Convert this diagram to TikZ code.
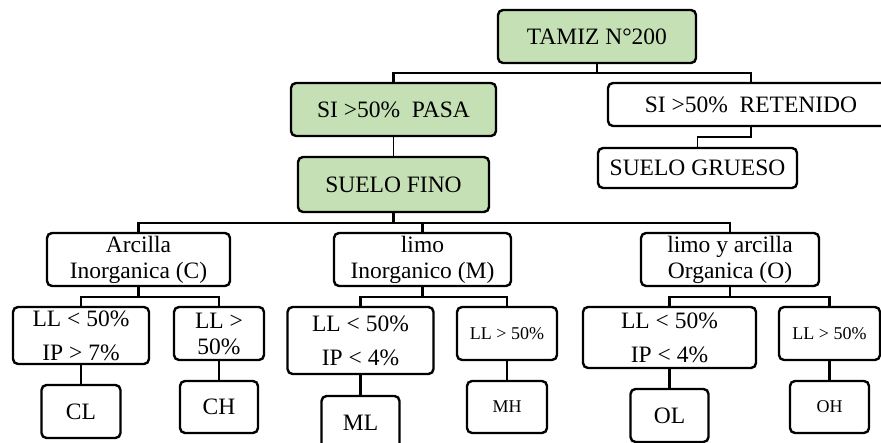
\documentclass[tikz,border=0pt]{standalone}
\usepackage{fontspec}
\setmainfont{Liberation Serif}
\usetikzlibrary{calc}
\definecolor{leafgreen}{RGB}{197,224,180}
\tikzset{
  box/.style={draw=black, line width=2.4pt, rounded corners=5pt, fill=white,
    inner sep=0pt, align=center, font=\fontsize{23.5}{26}\selectfont},
  gbox/.style={box, fill=leafgreen},
  wide/.style={font=\fontsize{23.5}{34}\selectfont},
  small/.style={font=\fontsize{18}{20}\selectfont},
  sz/.style args={#1x#2}{minimum width=#1pt, minimum height=#2pt},
  conn/.style={line width=2.4pt},
  thin/.style={line width=1.3pt},
}
\begin{document}
\begin{tikzpicture}[x=1pt, y=-1pt]
\useasboundingbox (0,0) rectangle (881,443);

% upper part
\node[gbox, sz=198x53] (tamiz) at (597,36.5) {TAMIZ N°200};
\node[gbox, sz=205x53] (pasa) at (393.5,109.5) {SI >50\%\ \ PASA};
\node[box, sz=286x43] (ret) at (751,104.5) {SI >50\%\ \ RETENIDO};
\node[gbox, sz=191x55] (fino) at (393.5,184.5) {SUELO FINO};
\node[box, sz=199x40] (grueso) at (697.5,168) {SUELO GRUESO};

% soil groups
\node[box, sz=183x53] (arc) at (138.5,259.5) {Arcilla\\Inorganica (C)};
\node[box, sz=177x53] (lim) at (422.5,259.5) {limo\\Inorganico (M)};
\node[box, sz=178x53] (org) at (730,259.5) {limo y arcilla\\Organica (O)};

% liquid limit conditions
\node[box, wide, sz=136x57] (c1) at (81,335.5) {LL < 50\%\\IP > 7\%};
\node[box, sz=90x53] (c2) at (219,333.5) {LL >\\50\%};
\node[box, wide, sz=146x67] (m1) at (360.5,340.5) {LL < 50\%\\IP < 4\%};
\node[box, small, sz=100x53] (m2) at (507,333.5) {LL > 50\%};
\node[box, wide, sz=173x61] (o1) at (669.5,337.5) {LL < 50\%\\IP < 4\%};
\node[box, small, sz=101x53] (o2) at (829.5,333.5) {LL > 50\%};

% symbols
\node[box, sz=79x53] (cl) at (81,411.5) {CL};
\node[box, sz=78x52] (ch) at (219,407) {CH};
\node[box, sz=78x53] (ml) at (360.5,422.5) {ML};
\node[box, small, sz=80x52] (mh) at (507,407) {MH};
\node[box, sz=78x53] (ol) at (669.5,415.5) {OL};
\node[box, small, sz=79x52] (oh) at (829.5,407) {OH};

% connectors
\coordinate (b0) at (597,73);
\draw[conn] (tamiz.south) -- (b0);
\draw[conn] (pasa.north) |- (b0) -| (ret.north);
\draw[thin] (pasa.south) -- (fino.north);
\coordinate (b1) at (751,137);
\draw[thin] (ret.south) -- (b1) -| (grueso.north);

\coordinate (b2) at (393.5,223);
\draw[conn] (fino.south) -- (b2);
\draw[conn] (arc.north) |- (b2) -| (org.north);
\draw[conn] (lim.north) -- (lim.north |- b2);

\foreach \p/\a/\b in {arc/c1/c2, lim/m1/m2, org/o1/o2}{
  \coordinate (bb) at ($(\p.south)+(0,10)$);
  \draw[conn] (\p.south) -- (bb);
  \draw[conn] (\a.north) |- (bb) -| (\b.north);
}
\foreach \a/\b in {c1/cl, c2/ch, m1/ml, m2/mh, o1/ol, o2/oh}{
  \draw[conn] (\a.south) -- (\b.north);
}
\end{tikzpicture}
\end{document}
